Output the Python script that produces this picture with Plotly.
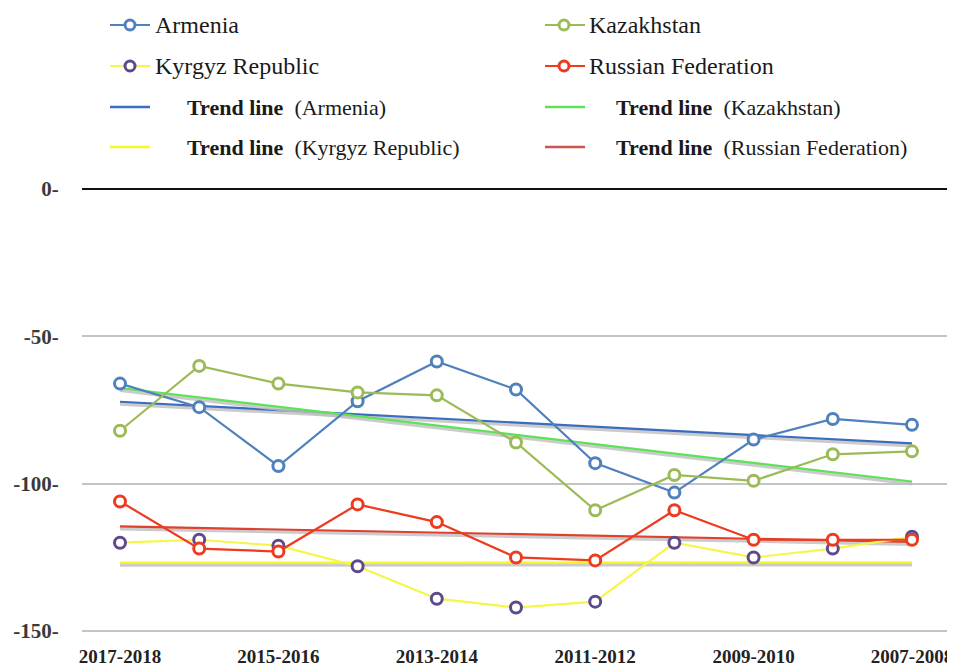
import numpy as np
import plotly.graph_objects as go

# ---------------- data ----------------
periods = ["2017-2018", "2016-2017", "2015-2016", "2014-2015", "2013-2014", "2012-2013",
           "2011-2012", "2010-2011", "2009-2010", "2008-2009", "2007-2008"]
tick_labels = ["2017-2018", "2015-2016", "2013-2014", "2011-2012", "2009-2010", "2007-2008"]

armenia = [-66, -74, -94, -72, -58.5, -68, -93, -103, -85, -78, -80]
kazakhstan = [-82, -60, -66, -69, -70, -86, -109, -97, -99, -90, -89]
kyrgyz = [-120, -119, -121, -128, -139, -142, -140, -120, -125, -122, -118]
russia = [-106, -122, -123, -107, -113, -125, -126, -109, -119, -119, -119]

y_ticks = [0, -50, -100, -150]
y_tick_text = ["0-", "-50-", "-100-", "-150-"]

# ---------------- styling ----------------
W, H = 955, 668
OFF = 8  # default page body margin shifts the figure by 8px
# plot area in page pixels: left 82, right 950, top 186, bottom 637
ML, MR, MT, MB = 82 - OFF, W - (950 - OFF), 186 - OFF, H - (637 - OFF)
FONT = "Liberation Serif"

series = [
    ("Armenia", armenia, "#4f81bd", "#4f81bd", "#3a6dbf"),
    ("Kazakhstan", kazakhstan, "#9bbb59", "#9bbb59", "#5ee25a"),
    ("Kyrgyz Republic", kyrgyz, "#f6f64a", "#5d4a8c", "#f8f824"),
    ("Russian Federation", russia, "#ee3a1e", "#ee3a1e", "#e0402e"),
]

fig = go.Figure()
xi = np.arange(len(periods))

# trend lines (linear least squares fit of each series)
for name, vals, lc, mc, tc in series:
    k, b = np.polyfit(xi, np.array(vals, dtype=float), 1)
    trend = k * xi + b
    fig.add_trace(go.Scatter(x=periods, y=trend - 0.7, mode="lines",
                             line=dict(color="rgba(190,190,190,0.8)", width=4),
                             hoverinfo="skip", showlegend=False))
    fig.add_trace(go.Scatter(x=periods, y=trend, mode="lines",
                             line=dict(color=tc, width=2.2),
                             name="Trend line (" + name + ")", showlegend=False))

# data lines
for name, vals, lc, mc, tc in series:
    fig.add_trace(go.Scatter(x=periods, y=vals, mode="lines+markers", name=name,
                             line=dict(color=lc, width=2.2),
                             marker=dict(symbol="circle", size=11, color="white",
                                         line=dict(color=mc, width=3)),
                             showlegend=False))

# ---------------- manual legend ----------------
PW = W - ML - MR
PH = H - MT - MB


def px(x):
    return (x - OFF - ML) / PW


def py(y):
    return (H - MB - (y - OFF)) / PH


shapes = []
annotations = []
cols = [(110, 150, 130, 153, 185), (545, 585, 564, 587, 614)]
rows_series = [25, 66]
rows_trend = [107, 147]
for i, (name, vals, lc, mc, tc) in enumerate(series):
    c = cols[i % 2]
    yr = rows_series[i // 2]
    shapes.append(dict(type="line", xref="paper", yref="paper", x0=px(c[0]), x1=px(c[1]),
                       y0=py(yr), y1=py(yr), line=dict(color=lc, width=2.2)))
    r = 5
    shapes.append(dict(type="circle", xref="paper", yref="paper",
                       x0=px(c[2] - r), x1=px(c[2] + r), y0=py(yr + r), y1=py(yr - r),
                       fillcolor="white", line=dict(color=mc, width=3)))
    annotations.append(dict(text=name, xref="paper", yref="paper", x=px(c[3]), y=py(yr),
                            xanchor="left", yanchor="middle", showarrow=False,
                            font=dict(family=FONT, size=24, color="#1a1a1a")))
    yt = rows_trend[i // 2]
    tcol = tc if name != "Russian Federation" else "#c9584c"
    shapes.append(dict(type="line", xref="paper", yref="paper", x0=px(c[0]), x1=px(c[1]),
                       y0=py(yt), y1=py(yt), line=dict(color=tcol, width=2.5)))
    annotations.append(dict(text="<b>Trend line</b>  (" + name + ")", xref="paper", yref="paper",
                            x=px(c[4]), y=py(yt), xanchor="left", yanchor="middle",
                            showarrow=False,
                            font=dict(family=FONT, size=22, color="#1a1a1a")))

fig.update_layout(
    width=W, height=H,
    margin=dict(l=ML, r=MR, t=MT, b=MB, autoexpand=False),
    paper_bgcolor="white", plot_bgcolor="white",
    shapes=shapes, annotations=annotations,
    showlegend=False,
    xaxis=dict(type="category", range=[-0.48, 10.48], tickmode="array",
               tickvals=tick_labels, ticktext=tick_labels, showgrid=False,
               zeroline=False, showline=False, ticks="outside", ticklen=2,
               tickcolor="rgba(0,0,0,0)", automargin=False,
               tickfont=dict(family=FONT, size=19, color="#222222", weight="bold")),
    yaxis=dict(range=[-152, 1.05], tickmode="array", tickvals=y_ticks, ticktext=y_tick_text,
               showgrid=True, gridcolor="#c4c4c4", gridwidth=2,
               zeroline=True, zerolinecolor="#111111", zerolinewidth=2,
               showline=False, ticks="outside", ticklen=18, tickcolor="rgba(0,0,0,0)",
               automargin=False,
               tickfont=dict(family=FONT, size=21, color="#3a3a3a", weight="bold")),
)

fig.write_html("out.html")
